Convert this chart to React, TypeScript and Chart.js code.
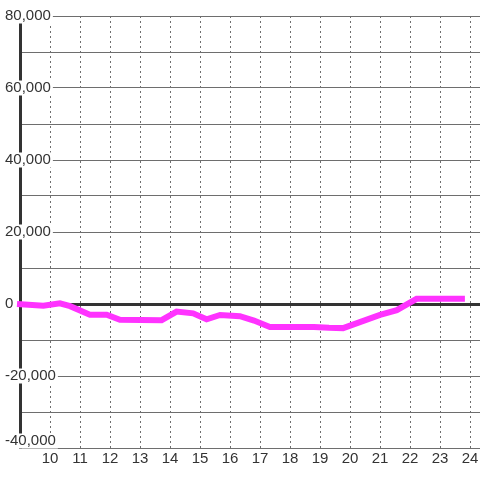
import React, { useEffect, useRef } from "react";
import { Chart, registerables } from "chart.js";

Chart.register(...registerables);

const xPositions = [8.9, 9.78, 10.33, 10.67, 11.33, 11.89, 12.33, 13.72, 14.22, 14.77, 15.22, 15.67, 16.33, 16.8, 17.33, 18.8, 19.3, 19.77, 21.0, 21.56, 22.22, 23.83];
const yValues = [0, -500, 200, -600, -3000, -3000, -4400, -4500, -2100, -2600, -4250, -3050, -3400, -4600, -6400, -6400, -6600, -6700, -3050, -1700, 1450, 1450];
const xTickValues = [10, 11, 12, 13, 14, 15, 16, 17, 18, 19, 20, 21, 22, 23, 24];
const yMin = -40000;
const yMax = 80000;
const yStep = 10000;
const yLabelStep = 20000;

const FONT = { family: "'Liberation Sans', Arial, sans-serif", size: 15, lineHeight: 1.0 };

// keeps the lowest y label inside the plot, as in the reference
const liftBottomLabel = {
  id: "liftBottomLabel",
  beforeDraw(chart: any) {
    const s = chart.scales.y;
    if (!s || !s.getLabelItems) return;
    const items = s.getLabelItems();
    const target = yMin.toLocaleString("en-US");
    for (const it of items) {
      if (it.label === target && !it._lifted && it.options && it.options.translation) {
        it.options.translation[1] -= 7;
        it._lifted = true;
      }
    }
  },
};

export default function App() {
  const ref = useRef<HTMLCanvasElement | null>(null);
  useEffect(() => {
    if (!ref.current) return;
    const chart = new Chart(ref.current, {
      type: "line",
      data: {
        datasets: [
          {
            data: xPositions.map((x, i) => ({ x, y: yValues[i] })),
            borderColor: "#ff33ff",
            borderWidth: 6,
            pointRadius: 0,
            tension: 0,
            fill: false,
            clip: false as any,
            borderCapStyle: "butt",
          },
        ],
      },
      options: {
        animation: false,
        responsive: false,
        layout: { padding: { top: 16, left: 0, right: 0, bottom: 0 } },
        plugins: { legend: { display: false }, tooltip: { enabled: false } },
        scales: {
          x: {
            type: "linear",
            min: 9,
            max: 24.3333,
            afterBuildTicks: (scale: any) => {
              scale.ticks = xTickValues.map((v) => ({ value: v }));
            },
            afterFit: (scale: any) => {
              scale.height = 32;
              scale.paddingLeft = 0;
              scale.paddingRight = 0;
            },
            grid: { color: "#6e6e6e", lineWidth: 1, drawTicks: false },
            border: { display: false, dash: [2, 3] },
            ticks: {
              autoSkip: false,
              maxRotation: 0,
              padding: 3,
              color: "#333",
              font: FONT,
              callback: (v: any) => String(v),
            },
          },
          y: {
            type: "linear",
            min: yMin,
            max: yMax,
            afterFit: (scale: any) => {
              scale.width = 20;
              scale.paddingTop = 0;
              scale.paddingBottom = 0;
            },
            grid: {
              drawTicks: false,
              color: (ctx: any) => (ctx.tick && ctx.tick.value === 0 ? "#333" : "#6e6e6e"),
              lineWidth: (ctx: any) => (ctx.tick && ctx.tick.value === 0 ? 3 : 1),
            },
            border: { display: true, color: "#333", width: 3 },
            ticks: {
              stepSize: yStep,
              mirror: true,
              padding: -15,
              color: "#333",
              font: FONT,
              showLabelBackdrop: true,
              backdropPadding: { top: 0, bottom: 0, left: 2, right: 2 },
              backdropColor: (ctx: any) =>
                ctx.tick && ctx.tick.value % yLabelStep === 0 ? "#ffffff" : "rgba(0,0,0,0)",
              callback: (v: any) => {
                const n = Number(v);
                return n % yLabelStep === 0 ? n.toLocaleString("en-US") : "";
              },
            },
          },
        },
      } as any,
      plugins: [liftBottomLabel],
    });
    return () => chart.destroy();
  }, []);
  return (
    <div style={{ position: "fixed", left: 0, top: 0, width: 480, height: 480, background: "#fff" }}>
      <canvas ref={ref} width={480} height={480} style={{ width: 480, height: 480 }} />
    </div>
  );
}
